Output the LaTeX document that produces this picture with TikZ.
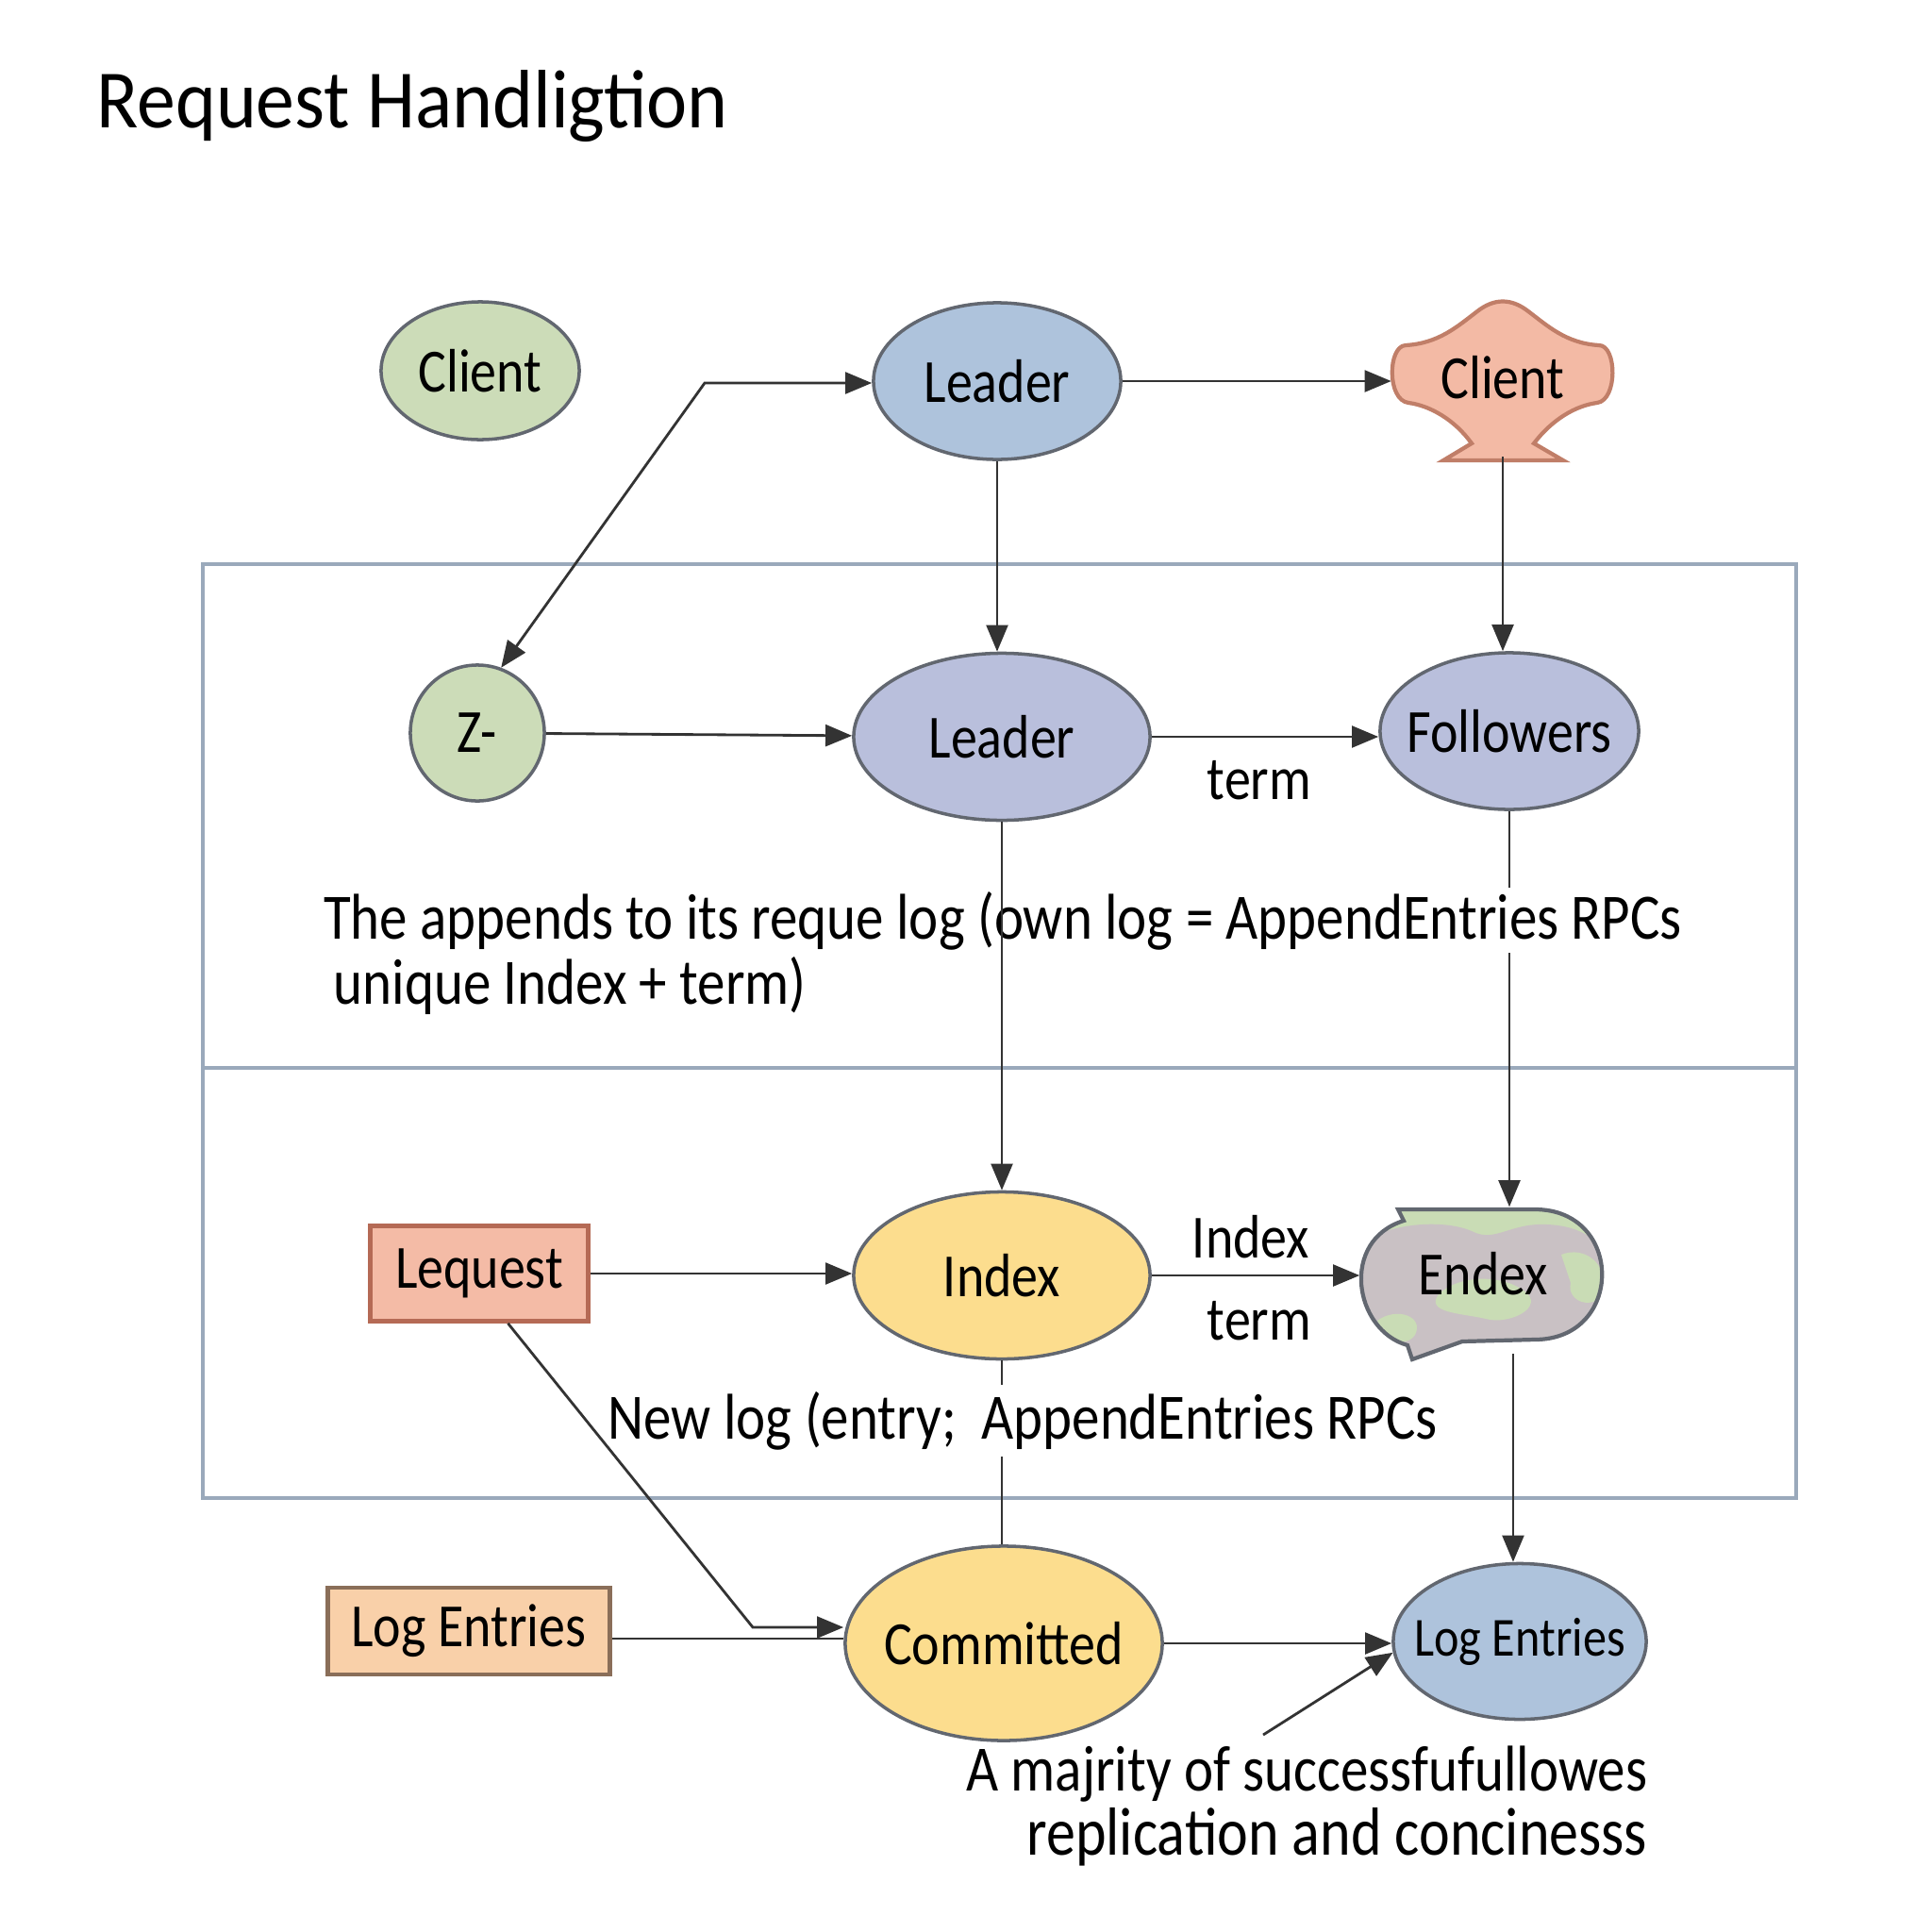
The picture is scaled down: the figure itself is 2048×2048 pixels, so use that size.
\documentclass[tikz,border=0pt]{standalone}
\usepackage{fontspec}
\setmainfont{Carlito}[FakeStretch=0.86]
\newfontfamily\titlefont{Carlito}[FakeStretch=0.93]
\usetikzlibrary{arrows.meta, shapes.geometric, positioning, calc}
\definecolor{edgegray}{HTML}{626770}
\definecolor{arrgray}{HTML}{333333}
\definecolor{panelblue}{HTML}{9AA9BB}
\definecolor{clientgreen}{HTML}{CCDCB8}
\definecolor{leaderblue}{HTML}{AEC3DC}
\definecolor{leaderlav}{HTML}{B9BFDC}
\definecolor{clientred}{HTML}{F3BAA5}
\definecolor{clientredline}{HTML}{C07E68}
\definecolor{idxyellow}{HTML}{FCDD8E}
\definecolor{reqred}{HTML}{F4BBA6}
\definecolor{reqredline}{HTML}{B56A55}
\definecolor{logorange}{HTML}{F9D0A9}
\definecolor{logorangeline}{HTML}{8A6E59}
\definecolor{endexgreen}{HTML}{C9DCB5}
\definecolor{endexgray}{HTML}{C9C1C4}

\begin{document}
\begin{tikzpicture}[
  x=0.01cm, y=-0.01cm,
  every node/.style={font=\fontsize{18.5}{22}\selectfont},
  ell/.style={ellipse, draw=edgegray, line width=1pt, inner xsep=-6pt, inner ysep=0pt},
  rect/.style={rectangle, line width=1.3pt, inner sep=0pt},
  txt/.style={font=\fontsize{19.5}{20}\selectfont, inner sep=0pt},
  arr/.style={-{Triangle[length=8pt, width=6.5pt]}, line width=0.8pt, arrgray},
  darr/.style={{Triangle[length=8pt, width=6.5pt]}-{Triangle[length=8pt, width=6.5pt]}, line width=0.8pt, arrgray},
  link/.style={line width=0.8pt, arrgray},
]
\useasboundingbox (0,0) rectangle (2048,2048);

\node[anchor=base west, font=\titlefont\fontsize{25}{30}\selectfont] (title) at (90,135) {Request Handligtion};

% PANEL
\draw[panelblue, line width=1.2pt] (215,598) rectangle (1904,1588);
\draw[panelblue, line width=1.2pt] (215,1132) -- (1904,1132);

% TOP ROW
\node[ell, fill=clientgreen, minimum width=2.1cm, minimum height=1.46cm] (client1) at (509,393) {Client};
\node[ell, fill=leaderblue, minimum width=2.62cm, minimum height=1.66cm] (leader1) at (1057,404) {Leader};
\draw[clientredline, fill=clientred, line width=1.2pt]
  (1560,470) -- (1530,488) -- (1657,488) -- (1626,470)
  .. controls (1645,445) and (1670,430) .. (1693,427)
  .. controls (1715,424) and (1714,366) .. (1695,366)
  .. controls (1660,364) and (1640,345) .. (1620,330)
  .. controls (1602,316) and (1584,316) .. (1566,330)
  .. controls (1545,346) and (1525,364) .. (1490,366)
  .. controls (1471,367) and (1470,424) .. (1493,427)
  .. controls (1516,430) and (1542,445) .. (1560,470) -- cycle;
\node[minimum width=2.35cm, minimum height=1.67cm, inner sep=0pt] (client2) at (1593,400) {Client};

% MIDDLE ROW
\node[ell, fill=clientgreen, minimum width=1.42cm, minimum height=1.44cm] (zcirc) at (506,777) {Z-};
\node[ell, fill=leaderlav, minimum width=3.14cm, minimum height=1.77cm] (leader2) at (1062,781) {Leader};
\node[ell, fill=leaderlav, minimum width=2.74cm, minimum height=1.66cm] (followers) at (1600,775) {Followers};
\coordinate (bend1) at (747,406);

\draw[darr] (zcirc.70) -- (bend1) -- (leader1.west |- bend1);
\draw[arr] (leader1.east) -- (client2.west |- leader1.east);
\draw[arr] (leader1.south) -- (leader1.south |- leader2.north);
\draw[arr] (client2.south) -- (client2.south |- followers.north);
\draw[arr] (zcirc) -- (leader2);
\draw[arr] (leader2.east) -- (followers.west |- leader2.east);
\node (termA) at (1335,827) {term};

% BOTTOM ROW
\node[rect, draw=reqredline, fill=reqred, minimum width=2.31cm, minimum height=1.01cm] (lequest) at (508,1350) {Lequest};
\node[ell, fill=idxyellow, minimum width=3.14cm, minimum height=1.77cm] (index) at (1062,1352) {Index};
\draw[edgegray, line width=1.2pt, fill=endexgreen, path picture={
    \fill[endexgray] (1440,1320) .. controls (1470,1296) and (1530,1292) .. (1560,1305)
      .. controls (1585,1318) and (1600,1296) .. (1640,1298)
      .. controls (1690,1300) and (1712,1330) .. (1712,1365)
      -- (1712,1450) -- (1440,1450) -- cycle;
    \fill[endexgreen] (1525,1372) .. controls (1545,1352) and (1590,1350) .. (1615,1368)
      .. controls (1640,1385) and (1600,1405) .. (1575,1398)
      .. controls (1550,1392) and (1510,1392) .. (1525,1372) -- cycle;
    \fill[endexgreen] (1655,1330) .. controls (1680,1320) and (1705,1340) .. (1700,1370)
      .. controls (1690,1390) and (1660,1380) .. (1665,1360) -- cycle;
    \fill[endexgreen] (1460,1400) .. controls (1480,1385) and (1510,1395) .. (1500,1415)
      .. controls (1490,1430) and (1465,1420) .. (1460,1400) -- cycle;}]
  (1482,1282) -- (1627,1282) .. controls (1722,1282) and (1722,1420) .. (1627,1420)
  -- (1550,1422) -- (1497,1441) -- (1492,1426)
  .. controls (1435,1410) and (1420,1315) .. (1488,1294) -- cycle;
\node[minimum width=2.6cm, minimum height=1.4cm, inner sep=0pt] (endex) at (1572,1350) {Endex};
\node[rect, draw=logorangeline, fill=logorange, minimum width=2.99cm, minimum height=0.92cm] (logrect) at (497,1729) {Log Entries};
\node[ell, fill=idxyellow, minimum width=3.36cm, minimum height=2.06cm] (committed) at (1064,1742) {Committed};
\node[ell, fill=leaderblue, minimum width=2.68cm, minimum height=1.65cm,
  label={[font=\fontsize{16.6}{20}\selectfont]center:Log Entries}] (logent) at (1611,1740) {};
\coordinate (bend2) at (798,1725);
\coordinate (majtail) at (1339,1839);

\draw[arr] (followers.south) -- (followers.south |- endex.north);
\node[txt, anchor=base west, fill=white, inner sep=1pt] (appendtxt) at (339,995) {The appends to its reque log (own log = AppendEntries RPCs};
\node[txt, anchor=base west] (appendtxt2) at (353,1064) {unique Index + term)};
\draw[arr] (leader2.south) -- (index.north);

\draw[arr] (lequest.east) -- (index.west |- lequest.east);
\draw[arr] (index.east) -- (endex.west |- index.east);
\node (idxlbl) at (1326,1311) {Index};
\node (termB) at (1335,1400) {term};
\draw[link] (index.south) -- (index.south |- committed.north);
\node[txt, anchor=base west, fill=white, inner sep=2pt] (newlog) at (637,1525) {New log (entry;\ \ AppendEntries RPCs};
\draw[arr] ([xshift=-2pt, yshift=-4pt]endex.south -| logent.north) -- ([xshift=-2pt]logent.north);

\draw[arr] (lequest.-60) -- (bend2) -- (committed.west |- bend2);
\draw[link] ($(logrect.east)+(0,8)$) -- (committed.west |- {$(logrect.east)+(0,8)$});
\draw[arr] (committed.east) -- (logent.west |- committed.east);
\draw[arr] (majtail) -- (logent.185);
\node[txt, anchor=base east] (majnote1) at (1747,1898) {A majrity of successfufullowes};
\node[txt, anchor=base east, font=\fontsize{20.5}{21}\selectfont] (majnote2) at (1747,1966) {replication and concinesss};

\end{tikzpicture}
\end{document}
